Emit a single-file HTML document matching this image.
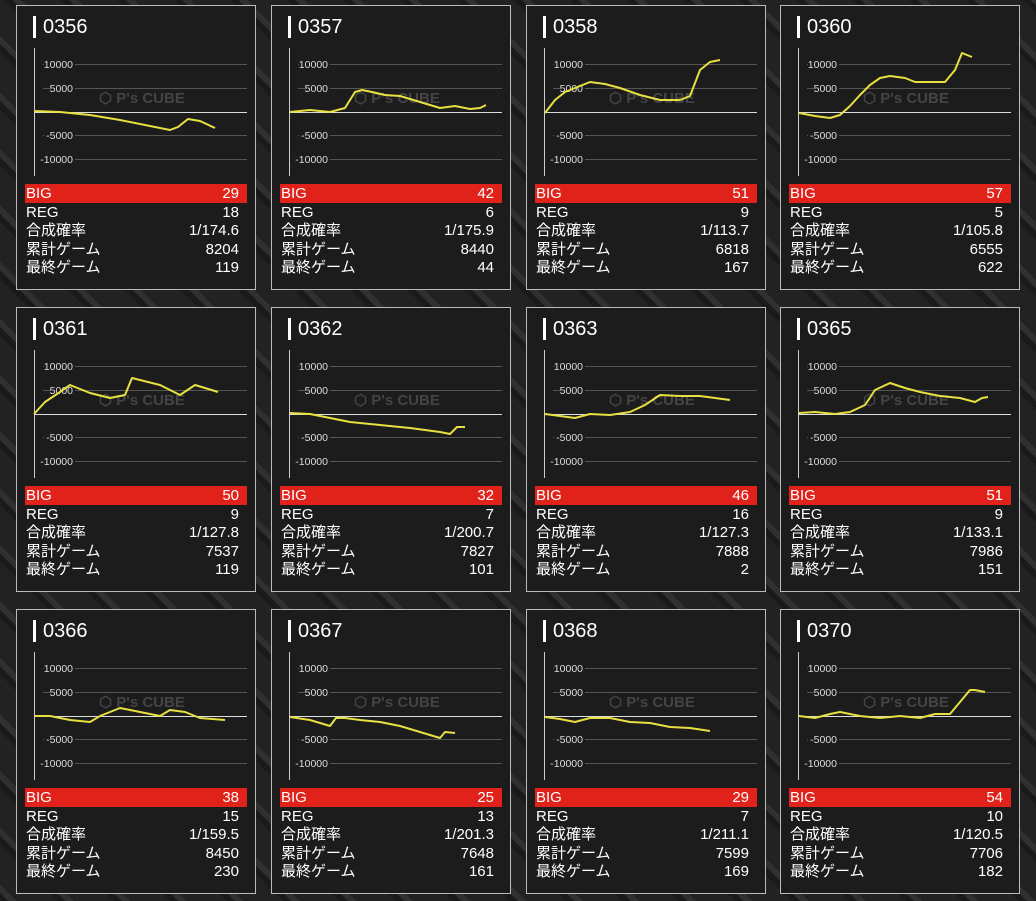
<!DOCTYPE html><html><head><meta charset="utf-8"><style>
body{margin:0;width:1036px;height:901px;overflow:hidden;background:#262626;background-image:repeating-linear-gradient(45deg,#1a1a1a 0 6px,#303030 6px 12px,#222 12px 40px);font-family:"Liberation Sans","Noto Sans CJK JP",sans-serif;color:#fff;position:relative}
.c{position:absolute;width:238px;height:283px;border:1px solid #bbb;background:#1c1c1c}
.bar{position:absolute;left:16px;top:10px;width:3px;height:22px;background:#fff}
.t{position:absolute;left:26px;top:9px;font-size:20px;line-height:24px}
.g{position:absolute;left:0;top:0}
.r{position:absolute;left:8px;width:222px;font-size:15px;line-height:19px;height:18.5px}
.r span{position:absolute;left:1px}.r b{font-weight:normal;position:absolute;right:8px}
.red{background:#e0221a}
#lines{position:absolute;left:0;top:0}
</style></head><body>
<div id="cards"></div>
<script>
var d=[["0356",29,18,"1/174.6",8204,119],["0357",42,6,"1/175.9",8440,44],["0358",51,9,"1/113.7",6818,167],["0360",57,5,"1/105.8",6555,622],["0361",50,9,"1/127.8",7537,119],["0362",32,7,"1/200.7",7827,101],["0363",46,16,"1/127.3",7888,2],["0365",51,9,"1/133.1",7986,151],["0366",38,15,"1/159.5",8450,230],["0367",25,13,"1/201.3",7648,161],["0368",29,7,"1/211.1",7599,169],["0370",54,10,"1/120.5",7706,182]];
var X=[16,271,526,780],Y=[5,307,609],h="";
d.forEach(function(a,i){var L=X[i%4],T=Y[Math.floor(i/4)];
var s='<svg class="g" width="238" height="283"><line x1="17.5" y1="42" x2="17.5" y2="170" stroke="#ccc"/>';
var lb=["10000","5000","","-5000","-10000"],ys=[58,82,106,129,153];
s+='<text x="82" y="97" font-size="15" font-weight="bold" fill="#444" font-family="Liberation Sans,sans-serif">⬡ P\'s CUBE</text>';
for(var k=0;k<5;k++){s+='<line x1="'+(k==2?17:26)+'" y1="'+(ys[k]+.5)+'" x2="230" y2="'+(ys[k]+.5)+'" stroke="'+(k==2?"#ddd":"#555")+'"/>';if(lb[k])s+='<rect x="'+(57-lb[k].length*6)+'" y="'+(ys[k]-6)+'" width="'+(lb[k].length*6+1)+'" height="12" fill="#1c1c1c"/><text x="56" y="'+(ys[k]+4)+'" font-size="10.5" fill="#ddd" text-anchor="end" font-family="Liberation Sans Narrow,Liberation Sans,sans-serif">'+lb[k]+'</text>';}
s+='</svg>';
var rows=[["BIG",a[1]],["REG",a[2]],["合成確率",a[3]],["累計ゲーム",a[4]],["最終ゲーム",a[5]]];
var rh="";rows.forEach(function(r,j){rh+='<div class="r'+(j==0?' red':'')+'" style="top:'+(178+j*18.5)+'px"><span>'+r[0]+'</span><b>'+r[1]+'</b></div>';});
h+='<div class="c" style="left:'+L+'px;top:'+T+'px">'+s+'<div class="bar"></div><div class="t">'+a[0]+'</div>'+rh+'</div>';});
document.getElementById("cards").innerHTML=h;
</script>
<svg id="lines" width="1036" height="901" fill="none" stroke="#e8e040" stroke-width="2" stroke-linejoin="round">
<polyline points="34,111 60,112 90,115 120,120 150,126 170,130 178,127 188,119 200,121 215,128"/>
<polyline points="290,112 310,110 330,112 345,108 355,92 362,90 372,92 385,95 400,96 420,102 440,108 455,106 470,109 480,108 486,105"/>
<polyline points="545,113 555,100 565,92 575,88 590,82 605,84 620,88 640,95 660,100 680,100 690,96 700,70 710,62 720,60"/>
<polyline points="799,113 815,116 830,118 840,115 850,106 860,95 870,85 880,78 890,76 905,78 915,82 930,82 945,82 955,70 962,53 972,57"/>
<polyline points="34,414 45,402 60,392 70,385 90,393 110,398 125,395 132,378 140,380 160,385 180,395 195,385 205,388 218,392"/>
<polyline points="290,413 310,414 330,418 350,422 380,425 410,428 440,432 450,434 457,427 465,427"/>
<polyline points="545,414 560,416 575,418 590,414 610,415 630,412 645,405 660,395 680,396 700,396 715,398 730,400"/>
<polyline points="799,413 815,412 835,414 850,412 865,405 875,390 890,383 905,388 920,392 940,396 960,398 975,402 982,398 988,397"/>
<polyline points="34,716 50,716 70,720 90,722 100,716 110,712 120,708 140,712 160,716 170,710 185,712 200,718 225,720"/>
<polyline points="290,717 310,720 330,726 336,718 345,718 360,720 380,722 400,726 420,732 440,738 445,732 455,733"/>
<polyline points="545,717 560,719 575,722 590,718 610,718 630,722 650,723 670,727 690,728 710,731"/>
<polyline points="799,716 815,718 830,714 840,712 860,716 880,718 900,716 920,718 935,714 950,714 960,702 970,690 975,690 985,692"/>
</svg>
</body></html>
